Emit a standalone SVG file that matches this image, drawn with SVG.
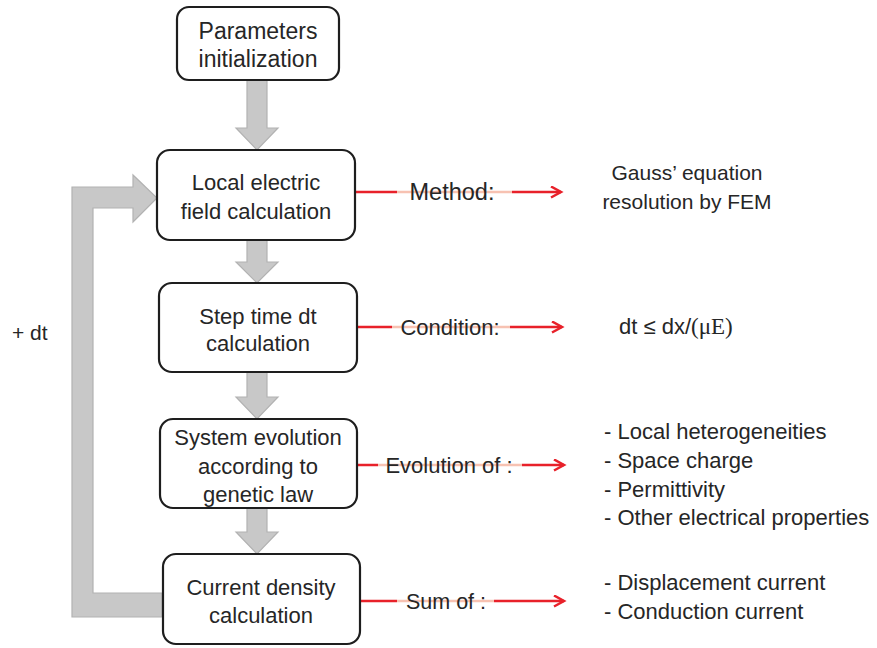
<svg xmlns="http://www.w3.org/2000/svg" width="877" height="648" viewBox="0 0 877 648">
<style>
.box{fill:#fff;stroke:#1e1e1e;stroke-width:2.2}
.t{font-family:"Liberation Sans",Arial,sans-serif;font-size:22px;fill:#262626}
.c{text-anchor:middle}
.g{fill:#c8c8c8;stroke:#b2b2b2;stroke-width:1.2}
.r{stroke:#e8212a;stroke-width:2.5;fill:none}
.p{stroke:#f7c2b2;stroke-width:2.5;fill:none}
</style>
<defs>
<marker id="ah" markerWidth="14" markerHeight="14" refX="11" refY="6" orient="auto" markerUnits="userSpaceOnUse">
<path d="M1,0.5 L11,6 L1,11.5" fill="none" stroke="#e8212a" stroke-width="2.5"/>
</marker>
</defs>
<g id="connectors">
<polygon class="g" points="247,80 267,80 267,128 278,128 257,150 236,128 247,128"/>
<polygon class="g" points="247,240 267,240 267,262 278,262 257,283 236,262 247,262"/>
<polygon class="g" points="247,372 267,372 267,397 278,397 257,419 236,397 247,397"/>
<polygon class="g" points="247,508 267,508 267,532 278,532 257,554 236,532 247,532"/>
<polygon class="g" points="72,187 133,187 133,175 157,198 133,222 133,208 93,208 93,593 162,593 162,617 72,617"/>
<line class="r" x1="356" y1="192" x2="397" y2="192"/>
<line class="p" x1="397" y1="192" x2="512" y2="192"/>
<line class="r" x1="512" y1="192" x2="561" y2="192" marker-end="url(#ah)"/>
<line class="r" x1="358" y1="327" x2="392" y2="327"/>
<line class="p" x1="392" y1="327" x2="510" y2="327"/>
<line class="r" x1="510" y1="327" x2="562" y2="327" marker-end="url(#ah)"/>
<line class="r" x1="358" y1="465" x2="378" y2="465"/>
<line class="p" x1="378" y1="465" x2="522" y2="465"/>
<line class="r" x1="522" y1="465" x2="564" y2="465" marker-end="url(#ah)"/>
<line class="r" x1="361" y1="601" x2="397" y2="601"/>
<line class="p" x1="397" y1="601" x2="494" y2="601"/>
<line class="r" x1="494" y1="601" x2="564" y2="601" marker-end="url(#ah)"/>
<text class="t c" x="452" y="200" style="font-size:23.5px">Method:</text>
<text class="t c" x="450" y="335">Condition:</text>
<text class="t c" x="449" y="473">Evolution of :</text>
<text class="t c" x="446" y="609" style="font-size:21.5px">Sum of :</text>
</g>
<g id="n1">
<rect class="box" x="177" y="7" width="162" height="73" rx="12"/>
<text class="t c" x="258" y="39" style="font-size:23px">Parameters</text>
<text class="t c" x="258" y="67" style="font-size:23px">initialization</text>
</g>
<g id="n2">
<rect class="box" x="157" y="150" width="198" height="90" rx="13"/>
<text class="t c" x="256" y="190">Local electric</text>
<text class="t c" x="256" y="219">field calculation</text>
</g>
<g id="n3">
<rect class="box" x="159" y="283" width="198" height="89" rx="13"/>
<text class="t c" x="258" y="324">Step time dt</text>
<text class="t c" x="258" y="351">calculation</text>
</g>
<g id="n4">
<rect class="box" x="160" y="419" width="197" height="89" rx="13"/>
<text class="t c" x="258" y="445">System evolution</text>
<text class="t c" x="258" y="474">according to</text>
<text class="t c" x="258" y="502">genetic law</text>
</g>
<g id="n5">
<rect class="box" x="163" y="554" width="197" height="90" rx="13"/>
<text class="t c" x="261" y="595">Current density</text>
<text class="t c" x="261" y="623">calculation</text>
</g>
<g id="labels">
<text class="t" x="12" y="340" style="font-size:21px">+ dt</text>
<text class="t c" x="687" y="180" style="font-size:21px">Gauss’ equation</text>
<text class="t c" x="687" y="209" style="font-size:21px">resolution by FEM</text>
<text class="t" x="619" y="334">dt ≤ dx/<tspan font-family="'Liberation Serif',serif" font-size="23">(μE)</tspan></text>
<text class="t" x="604" y="439">- Local heterogeneities</text>
<text class="t" x="604" y="468">- Space charge</text>
<text class="t" x="604" y="497">- Permittivity</text>
<text class="t" x="604" y="525">- Other electrical properties</text>
<text class="t" x="604" y="590">- Displacement current</text>
<text class="t" x="604" y="619">- Conduction current</text>
</g>
</svg>
